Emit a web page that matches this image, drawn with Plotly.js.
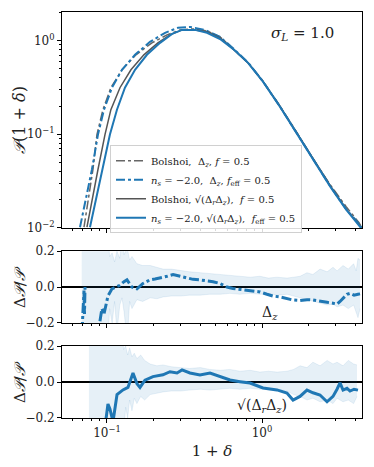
<!DOCTYPE html>
<html>
<head>
<meta charset="utf-8">
<script src="https://cdn.plot.ly/plotly-3.0.1.min.js"></script>
<style>
  body { margin: 0; background: #fff; }
  #chart { width: 374px; height: 467px; }
</style>
</head>
<body>
<div id="chart"></div>
<script>
// top panel: P(1+delta), four measured curves
const bolDzX = [0.0711, 0.0754, 0.0812, 0.0862, 0.0942, 0.106, 0.125, 0.1538, 0.195, 0.244, 0.296, 0.359, 0.442, 0.536, 0.650, 0.813, 1.015, 1.306, 1.68, 2.13, 2.75, 3.48, 4.2, 4.42];
const bolDzY = [0.0102, 0.0202, 0.0421, 0.0993, 0.183, 0.314, 0.488, 0.705, 0.945, 1.15, 1.30, 1.33, 1.27, 1.095, 0.82, 0.58, 0.37, 0.20, 0.104, 0.055, 0.029, 0.017, 0.0115, 0.010];

const nsDzX = [0.0670, 0.0732, 0.080, 0.0875, 0.0957, 0.1077, 0.125, 0.1517, 0.1894, 0.237, 0.287, 0.343, 0.429, 0.536, 0.650, 0.813, 1.015, 1.306, 1.68, 2.13, 2.75, 3.48, 4.42];
const nsDzY = [0.0102, 0.0202, 0.0421, 0.0993, 0.183, 0.314, 0.488, 0.705, 0.969, 1.21, 1.37, 1.40, 1.30, 1.095, 0.83, 0.585, 0.366, 0.198, 0.102, 0.054, 0.028, 0.016, 0.0102];

const bolSqX = [0.0743, 0.080, 0.0875, 0.0971, 0.106, 0.1213, 0.1428, 0.173, 0.213, 0.255, 0.305, 0.370, 0.442, 0.536, 0.650, 0.813, 1.015, 1.306, 1.68, 2.13, 2.75, 3.48, 4.42];
const bolSqY = [0.0102, 0.0202, 0.0421, 0.0993, 0.183, 0.314, 0.488, 0.705, 0.945, 1.15, 1.30, 1.30, 1.24, 1.07, 0.815, 0.578, 0.365, 0.198, 0.103, 0.055, 0.0285, 0.016, 0.0099];

const nsSqX = [0.0777, 0.0849, 0.0928, 0.1045, 0.116, 0.1306, 0.1517, 0.181, 0.220, 0.263, 0.305, 0.370, 0.442, 0.536, 0.650, 0.813, 1.015, 1.306, 1.68, 2.13, 2.75, 3.48, 4.42];
const nsSqY = [0.0102, 0.0202, 0.0421, 0.0993, 0.183, 0.314, 0.488, 0.705, 0.945, 1.178, 1.30, 1.30, 1.21, 1.04, 0.816, 0.579, 0.364, 0.197, 0.1017, 0.0538, 0.0278, 0.0158, 0.0097];

// middle panel: residual for Delta_z
const resDzX = [0.0690, 0.0700, 0.0711, 0.0716, 0.0722, null, 0.0901, 0.0928, 0.0957, 0.099, 0.1015, 0.1077, 0.1143, 0.1213, 0.1288, 0.1346, 0.1449, 0.1562, 0.1707, 0.1894, 0.204, 0.220, 0.244, 0.267, 0.296, 0.328, 0.359, 0.398, 0.442, 0.483, 0.536, 0.594, 0.650, 0.721, 0.800, 0.875, 0.971, 1.077, 1.178, 1.306, 1.449, 1.585, 1.758, 1.950, 2.133, 2.366, 2.627, 2.871, 3.047, 3.186, 3.332, 3.535, 3.697, 3.924, 4.16, 4.29];
const resDzY = [-0.25, -0.10, -0.02, -0.15, 0.0, null, -0.19, -0.12, -0.15, -0.10, -0.05, -0.01, 0.0, 0.01, 0.03, 0.04, 0.0, -0.01, 0.02, 0.04, 0.045, 0.05, 0.06, 0.07, 0.06, 0.052, 0.043, 0.04, 0.035, 0.03, 0.02, 0.0, -0.008, -0.012, -0.018, -0.022, -0.027, -0.04, -0.05, -0.055, -0.063, -0.072, -0.075, -0.07, -0.072, -0.08, -0.085, -0.09, -0.095, -0.08, -0.06, -0.04, -0.035, -0.045, -0.04, -0.038];

const bandDzX = [0.0687, 0.075, 0.085, 0.095, 0.1015, 0.104, 0.108, 0.112, 0.116, 0.121, 0.125, 0.129, 0.135, 0.14, 0.145, 0.156, 0.17, 0.19, 0.21, 0.23, 0.26, 0.3, 0.34, 0.4, 0.46, 0.54, 0.62, 0.72, 0.84, 0.97, 1.1, 1.25, 1.45, 1.6, 1.76, 1.95, 2.13, 2.37, 2.63, 2.87, 3.05, 3.33, 3.6, 3.9, 4.05, 4.16, 4.29];
const bandDzHi = [0.3, 0.3, 0.3, 0.3, 0.3, 0.17, 0.19, 0.14, 0.2, 0.16, 0.3, 0.18, 0.22, 0.15, 0.17, 0.13, 0.12, 0.12, 0.11, 0.1, 0.1, 0.09, 0.085, 0.08, 0.075, 0.07, 0.065, 0.06, 0.055, 0.06, 0.05, 0.055, 0.05, 0.055, 0.06, 0.08, 0.07, 0.1, 0.085, 0.11, 0.09, 0.12, 0.1, 0.13, 0.09, 0.16, 0.15];
const bandDzLo = [-0.3, -0.3, -0.3, -0.3, -0.3, -0.12, -0.2, -0.08, -0.25, -0.1, -0.06, -0.14, -0.3, -0.08, -0.12, -0.07, -0.08, -0.06, -0.065, -0.055, -0.05, -0.05, -0.045, -0.045, -0.04, -0.04, -0.035, -0.04, -0.035, -0.04, -0.035, -0.045, -0.04, -0.05, -0.06, -0.07, -0.08, -0.09, -0.1, -0.095, -0.11, -0.1, -0.12, -0.1, -0.14, -0.17, -0.12];

// bottom panel: residual for sqrt(Delta_r Delta_z)
const resSqX = [0.0971, 0.1000, 0.1015, 0.1045, 0.1094, 0.1161, 0.1268, 0.1366, 0.1472, 0.1562, 0.1633, 0.1759, 0.198, 0.2297, 0.2549, 0.283, 0.305, 0.343, 0.398, 0.462, 0.536, 0.622, 0.721, 0.837, 1.015, 1.249, 1.449, 1.585, 1.758, 1.950, 2.133, 2.366, 2.627, 2.871, 3.047, 3.186, 3.332, 3.535, 3.697, 3.924, 4.16];
const resSqY = [-0.25, -0.14, -0.122, -0.15, -0.22, -0.07, -0.044, -0.03, 0.05, -0.01, -0.03, 0.01, 0.03, 0.04, 0.057, 0.05, 0.067, 0.05, 0.039, 0.05, 0.03, 0.011, 0.002, -0.006, -0.033, -0.044, -0.061, -0.1, -0.08, -0.045, -0.06, -0.072, -0.11, -0.08, -0.04, -0.005, -0.045, -0.035, -0.05, -0.04, -0.045];

const bandSqX = [0.0765, 0.085, 0.095, 0.105, 0.115, 0.125, 0.128, 0.132, 0.136, 0.14, 0.145, 0.15, 0.156, 0.165, 0.175, 0.19, 0.21, 0.23, 0.26, 0.3, 0.34, 0.4, 0.46, 0.54, 0.62, 0.72, 0.84, 0.97, 1.1, 1.25, 1.45, 1.6, 1.76, 1.95, 2.13, 2.37, 2.63, 2.87, 3.05, 3.33, 3.6, 3.9, 4.1];
const bandSqHi = [0.3, 0.3, 0.3, 0.3, 0.3, 0.3, 0.18, 0.2, 0.15, 0.19, 0.14, 0.16, 0.13, 0.15, 0.12, 0.1, 0.09, 0.095, 0.085, 0.08, 0.075, 0.08, 0.07, 0.065, 0.07, 0.06, 0.065, 0.055, 0.06, 0.055, 0.06, 0.07, 0.09, 0.08, 0.11, 0.09, 0.12, 0.1, 0.11, 0.09, 0.12, 0.1, 0.095];
const bandSqLo = [-0.3, -0.3, -0.3, -0.3, -0.3, -0.3, -0.3, -0.14, -0.2, -0.1, -0.16, -0.09, -0.12, -0.08, -0.1, -0.07, -0.06, -0.055, -0.05, -0.05, -0.045, -0.04, -0.045, -0.04, -0.035, -0.04, -0.035, -0.04, -0.035, -0.04, -0.05, -0.07, -0.08, -0.1, -0.09, -0.11, -0.1, -0.12, -0.09, -0.11, -0.1, -0.12, -0.08];

// axis ticks
const xMajor = [0.1, 1];
const xMajorText = ['10<sup>−1</sup>', '10<sup>0</sup>'];
const xMinor = [0.06, 0.07, 0.08, 0.09, 0.2, 0.3, 0.4, 0.5, 0.6, 0.7, 0.8, 0.9, 2, 3, 4];
const yMajor = [0.01, 0.1, 1];
const yMajorText = ['10<sup>−2</sup>', '10<sup>−1</sup>', '10<sup>0</sup>'];
const yMinor = [0.02, 0.03, 0.04, 0.05, 0.06, 0.07, 0.08, 0.09, 0.2, 0.3, 0.4, 0.5, 0.6, 0.7, 0.8, 0.9, 2];
const resTicks = [-0.2, 0, 0.2];
const resTickText = ['−0.2', '0.0', '0.2'];

const blue = '#1f77b4';
const grey = '#555555';
const bandFill = 'rgba(31,119,180,0.11)';
const bandEdge = 'rgba(31,119,180,0.12)';
const serif = '"DejaVu Serif", "Liberation Serif", serif';
const sqrtDrDz = '√(Δ<sub><i>r</i></sub>Δ<sub><i>z</i></sub>)';
const resTitle = 'Δ<i>𝒫</i>/<i>𝒫</i>';

const traces = [
    { x: bolDzX, y: bolDzY, xaxis: 'x', yaxis: 'y', mode: 'lines',
      line: { color: '#666666', width: 1.5, dash: 'dashdot' },
      name: 'Bolshoi,  Δ<sub><i>z</i></sub>, <i>f</i> = 0.5' },
    { x: nsDzX, y: nsDzY, xaxis: 'x', yaxis: 'y', mode: 'lines',
      line: { color: blue, width: 2, dash: 'dashdot' },
      name: '<i>n<sub>s</sub></i> = −2.0,  Δ<sub><i>z</i></sub>, <i>f</i><sub>eff</sub> = 0.5' },
    { x: bolSqX, y: bolSqY, xaxis: 'x', yaxis: 'y', mode: 'lines',
      line: { color: grey, width: 1.5 },
      name: 'Bolshoi, ' + sqrtDrDz + ',  <i>f</i> = 0.5' },
    { x: nsSqX, y: nsSqY, xaxis: 'x', yaxis: 'y', mode: 'lines',
      line: { color: blue, width: 2 },
      name: '<i>n<sub>s</sub></i> = −2.0, ' + sqrtDrDz + ',  <i>f</i><sub>eff</sub> = 0.5' },

    { x: bandDzX, y: bandDzLo, xaxis: 'x2', yaxis: 'y2', mode: 'lines',
      line: { color: bandEdge, width: 0.8 }, showlegend: false, hoverinfo: 'skip' },
    { x: bandDzX, y: bandDzHi, xaxis: 'x2', yaxis: 'y2', mode: 'lines', fill: 'tonexty',
      fillcolor: bandFill, line: { color: bandEdge, width: 0.8 }, showlegend: false, hoverinfo: 'skip' },
    { x: resDzX, y: resDzY, xaxis: 'x2', yaxis: 'y2', mode: 'lines', connectgaps: false,
      line: { color: blue, width: 3, dash: '10px,3px,3px,3px' }, showlegend: false },

    { x: bandSqX, y: bandSqLo, xaxis: 'x3', yaxis: 'y3', mode: 'lines',
      line: { color: bandEdge, width: 0.8 }, showlegend: false, hoverinfo: 'skip' },
    { x: bandSqX, y: bandSqHi, xaxis: 'x3', yaxis: 'y3', mode: 'lines', fill: 'tonexty',
      fillcolor: bandFill, line: { color: bandEdge, width: 0.8 }, showlegend: false, hoverinfo: 'skip' },
    { x: resSqX, y: resSqY, xaxis: 'x3', yaxis: 'y3', mode: 'lines',
      line: { color: blue, width: 3 }, showlegend: false }
];

function xAxis(anchor, labels) {
    return {
        type: 'log', range: [-1.29, 0.645], anchor: anchor,
        showline: true, mirror: true, linecolor: '#000', linewidth: 1,
        showgrid: false, zeroline: false,
        tickmode: 'array', tickvals: xMajor, ticktext: xMajorText,
        ticks: 'outside', ticklen: 4, tickcolor: '#000',
        showticklabels: labels,
        minor: { tickmode: 'array', tickvals: xMinor, ticks: 'outside', ticklen: 2, tickcolor: '#000' },
        tickfont: { family: serif, size: 12, color: '#222' }
    };
}

function resAxis(domain, anchor) {
    return {
        domain: domain, range: [-0.2, 0.2], anchor: anchor,
        showline: true, mirror: true, linecolor: '#000', linewidth: 1,
        showgrid: false, zeroline: true, zerolinecolor: '#000', zerolinewidth: 1.3,
        tickmode: 'array', tickvals: resTicks, ticktext: resTickText,
        ticks: 'outside', ticklen: 4, tickcolor: '#000',
        tickfont: { family: serif, size: 12, color: '#222' }
    };
}

// y titles placed as annotations so they sit near the tick labels as in the reference
function yTitle(text, y, size) {
    return { text: text, xref: 'paper', yref: 'paper', x: -0.14, y: y, xanchor: 'center', yanchor: 'middle',
             textangle: -90, showarrow: false, font: { family: serif, size: size, color: '#222' } };
}

function label(text, x, y, size) {
    return { text: text, xref: 'paper', yref: 'paper', x: x, y: y, xanchor: 'center', yanchor: 'middle',
             showarrow: false, font: { family: serif, size: size, color: '#222' } };
}

const layout = {
    width: 374, height: 467,
    margin: { l: 62, r: 12, t: 12, b: 49 },
    paper_bgcolor: '#fff', plot_bgcolor: '#fff',
    font: { family: serif, color: '#222' },
    showlegend: true,
    legend: {
        x: 0.16, y: 0.672, xanchor: 'left', yanchor: 'top', traceorder: 'normal',
        bgcolor: 'rgba(255,255,255,0.85)', bordercolor: '#d0d0d0', borderwidth: 1,
        font: { family: serif, size: 10, color: '#222' },
        itemwidth: 30, tracegroupgap: 0
    },
    xaxis: xAxis('y', false),
    xaxis2: Object.assign(xAxis('y2', false), { matches: 'x' }),
    xaxis3: Object.assign(xAxis('y3', true), { matches: 'x',
        title: { text: '1 + <i>δ</i>', font: { family: serif, size: 15, color: '#222' }, standoff: 6 } }),
    yaxis: {
        domain: [0.468, 1], type: 'log', range: [-2, 0.305], anchor: 'x',
        showline: true, mirror: true, linecolor: '#000', linewidth: 1,
        showgrid: false, zeroline: false,
        tickmode: 'array', tickvals: yMajor, ticktext: yMajorText,
        ticks: 'outside', ticklen: 4, tickcolor: '#000',
        minor: { tickmode: 'array', tickvals: yMinor, ticks: 'outside', ticklen: 2, tickcolor: '#000' },
        tickfont: { family: serif, size: 12, color: '#222' }
    },
    yaxis2: resAxis([0.234, 0.411], 'x2'),
    yaxis3: resAxis([0, 0.1773], 'x3'),
    annotations: [
        yTitle('<i>𝒫</i>(1 + <i>δ</i>)', 0.734, 16),
        yTitle(resTitle, 0.3227, 15),
        yTitle(resTitle, 0.0887, 15),
        label('<i>σ<sub>L</sub></i> = 1.0', 0.803, 0.948, 15),
        label('Δ<sub><i>z</i></sub>', 0.693, 0.258, 14),
        label(sqrtDrDz, 0.667, 0.03, 14)
    ]
};

Plotly.newPlot('chart', traces, layout, { displayModeBar: false, staticPlot: true });
</script>
</body>
</html>
